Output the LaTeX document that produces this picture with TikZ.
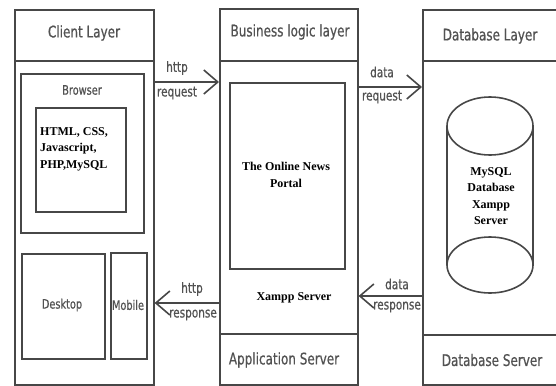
\documentclass[tikz,border=0pt]{standalone}
\usepackage{fontspec}
\setmainfont{Liberation Serif}
\newfontfamily\handfont[FakeStretch=0.75,FakeBold=0.6]{DejaVu Sans}
\usetikzlibrary{arrows.meta}
\begin{document}
\begin{tikzpicture}[x=1pt,y=-1pt,
  line/.style={draw=black!72, line width=1.6pt},
  box/.style={line, rectangle, inner sep=0pt, anchor=north west},
  hand/.style={font=\handfont\fontsize{16}{18}\selectfont, text=black!68, inner sep=0pt},
  small/.style={font=\handfont\fontsize{13}{15}\selectfont, text=black!68, inner sep=0pt},
  lab/.style={font=\handfont\fontsize{14}{16}\selectfont, text=black!68, inner sep=0pt},
  bold/.style={font=\bfseries\fontsize{12}{16.5}\selectfont, inner sep=0pt},
  arr/.style={line, -{Straight Barb[length=14pt,width=24pt,line width=1.6pt]}}
]
\useasboundingbox (0,0) rectangle (556,385);
\clip (0,0) rectangle (556,385);
\fill[white] (0,0) rectangle (556,385);

% Client column
\node[box, minimum width=139pt, minimum height=375pt] (client) at (14,9) {};
\node[box, minimum width=139pt, minimum height=51pt] (clienthead) at (14,9) {};
\node[hand] (clientlbl) at (84,33) {Client Layer};
\node[box, minimum width=123pt, minimum height=159pt] (browser) at (20,73) {};
\node[small] (browserlbl) at (82,90) {Browser};
\node[box, minimum width=90pt, minimum height=104pt] (tech) at (35,107) {};
\node[bold, anchor=west, align=left] (techlbl) at (40,149) {HTML, CSS,\\Javascript,\\PHP,MySQL};
\node[box, minimum width=83pt, minimum height=105pt] (desktop) at (21,253) {};
\node[small] (desktoplbl) at (62,305) {Desktop};
\node[box, minimum width=36pt, minimum height=106pt] (mobile) at (110,252) {};
\node[small] (mobilelbl) at (128,305) {Mobile};

% Business column
\node[box, minimum width=138pt, minimum height=376pt] (business) at (219,8) {};
\node[box, minimum width=138pt, minimum height=52pt] (bizhead) at (219,8) {};
\node[hand] (bizlbl) at (290,32) {Business logic layer};
\node[box, minimum width=115pt, minimum height=186pt] (portal) at (229,82) {};
\node[bold, align=center] (portallbl) at (286,175) {The Online News\\Portal};
\node[bold] (xampp) at (294,298) {Xampp Server};
\node[box, minimum width=138pt, minimum height=51pt] (appserver) at (219,333) {};
\node[hand] (applbl) at (284,360) {Application Server};

% Database column
\node[box, minimum width=150pt, minimum height=375pt] (database) at (422,9) {};
\node[box, minimum width=150pt, minimum height=51pt] (dbhead) at (422,9) {};
\node[hand] (dblbl) at (490,36) {Database Layer};
\node[box, minimum width=150pt, minimum height=50pt] (dbserver) at (422,334) {};
\node[hand] (dbserverlbl) at (492,360) {Database Server};

% Cylinder
\draw[line] (447,126) -- (447,265);
\draw[line] (533,126) -- (533,265);
\draw[line, fill=white] (490,126) ellipse [x radius=43pt, y radius=29pt];
\draw[line] (490,265) ellipse [x radius=43pt, y radius=28pt];
\node[bold, align=center] (mysql) at (491,196) {MySQL\\Database\\Xampp\\Server};

% Connectors
\draw[arr] (client.east |- 0,82) -- (business.west |- 0,82);
\node[lab] at (177,68) {http};
\node[lab] at (177,93) {request};
\draw[arr] (business.east |- 0,87) -- (database.west |- 0,87);
\node[lab] at (382,72) {data};
\node[lab] at (382,97) {request};
\draw[arr] (business.west |- 0,303) -- (client.east |- 0,303);
\node[lab] at (192,289) {http};
\node[lab] at (193,315) {response};
\draw[arr] (database.west |- 0,296) -- (business.east |- 0,296);
\node[lab] at (397,284) {data};
\node[lab] at (397,307) {response};
\end{tikzpicture}
\end{document}
